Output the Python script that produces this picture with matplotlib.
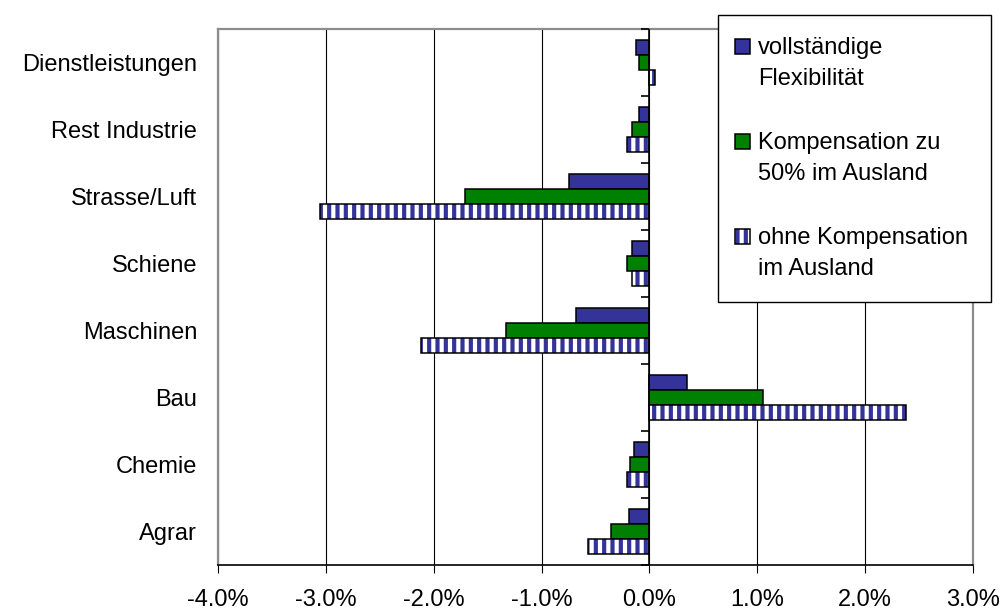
import numpy as np
import matplotlib
matplotlib.use("Agg")
import matplotlib.pyplot as plt
from matplotlib.patches import Patch, Rectangle
from matplotlib.legend_handler import HandlerBase
from matplotlib.ticker import PercentFormatter

plt.rcParams['font.family'] = ['Liberation Sans', 'DejaVu Sans']
plt.rcParams['axes.unicode_minus'] = False
plt.rcParams['hatch.linewidth'] = 3.0

# data (percent change), top to bottom
categories = ['Dienstleistungen', 'Rest Industrie', 'Strasse/Luft', 'Schiene',
              'Maschinen', 'Bau', 'Chemie', 'Agrar']
voll_flex = [-0.12, -0.10, -0.75, -0.16, -0.68, 0.35, -0.14, -0.19]
komp_50 = [-0.10, -0.16, -1.71, -0.21, -1.33, 1.05, -0.18, -0.36]
ohne_komp = [0.05, -0.21, -3.05, -0.16, -2.12, 2.38, -0.21, -0.57]
labels = ['vollständige\nFlexibilität', 'Kompensation zu\n50% im Ausland',
          'ohne Kompensation\nim Ausland']

blue = '#333399'
green = '#008000'
FS = 17
LSP = 1.5


class TopSquare(HandlerBase):
    # square key aligned with the first line of a two-line label
    def create_artists(self, legend, orig_handle, xdescent, ydescent,
                       width, height, fontsize, trans):
        s = 0.62 * fontsize
        x0 = (width - s) / 2 - xdescent - 0.3 * fontsize
        y0 = (LSP - 0.72) * fontsize
        out = []
        if orig_handle.get_hatch():
            out.append(Rectangle((x0, y0), s, s, facecolor='white', edgecolor=blue,
                                 hatch=orig_handle.get_hatch(), linewidth=0, transform=trans))
            out.append(Rectangle((x0, y0), s, s, fill=False, edgecolor='black',
                                 linewidth=1.1, transform=trans))
        else:
            out.append(Rectangle((x0, y0), s, s, facecolor=orig_handle.get_facecolor(),
                                 edgecolor='black', linewidth=1.1, transform=trans))
        return out


fig = plt.figure(figsize=(10.01, 6.10), dpi=100)
ax = fig.add_axes([0.2178, 0.0738, 0.7542, 0.8787])

n = len(categories)
y = np.arange(n)[::-1]
h = 0.22

ax.barh(y + h, voll_flex, height=h, color=blue, edgecolor='black', linewidth=1.1, zorder=3)
ax.barh(y, komp_50, height=h, color=green, edgecolor='black', linewidth=1.1, zorder=3)
# striped series: white face, blue vertical hatch, black outline on top
ax.barh(y - h, ohne_komp, height=h, color='white', edgecolor=blue, hatch='||', linewidth=0, zorder=3)
ax.barh(y - h, ohne_komp, height=h, fill=False, edgecolor='black', linewidth=1.1, zorder=4)

ax.set_xlim(-4, 3)
ax.set_ylim(-0.5, n - 0.5)
ax.xaxis.set_major_locator(plt.MultipleLocator(1))
ax.xaxis.set_major_formatter(PercentFormatter(xmax=100, decimals=1))
ax.grid(axis='x', color='black', linewidth=0.8, zorder=0)
ax.set_axisbelow(True)

ax.set_yticks(y)
ax.set_yticklabels(categories)
ax.tick_params(axis='y', length=0, pad=15, labelsize=FS)
ax.tick_params(axis='x', length=6, width=0.8, direction='out', pad=11, labelsize=FS)

for s in ['left', 'top', 'right']:
    ax.spines[s].set_color('#8c8c8c')
    ax.spines[s].set_linewidth(1.6)
ax.spines['bottom'].set_color('black')
ax.spines['bottom'].set_linewidth(1.2)

# value axis at zero with small ticks at category boundaries
ax.axvline(0, color='black', linewidth=1.2, zorder=5)
bounds = np.arange(n + 1) - 0.5
ax.plot(np.zeros(n + 1), bounds, ls='none', marker=0, markersize=6,
        mec='black', mew=1.2, zorder=5, clip_on=False)

h1 = Patch(facecolor=blue)
h2 = Patch(facecolor=green)
h3 = Patch(facecolor='white', hatch='||')
leg = fig.legend([h1, h2, h3], labels, loc='upper left',
                 bbox_to_anchor=(718 / 1001, 1 - 15 / 610),
                 handler_map={Patch: TopSquare()},
                 fontsize=FS, frameon=True, fancybox=False, framealpha=1,
                 edgecolor='black', handlelength=0.75, handleheight=0.7,
                 handletextpad=0.0, labelspacing=1.8, borderpad=0.95,
                 borderaxespad=0)
for t in leg.get_texts():
    t.set_linespacing(LSP)
leg.get_frame().set_linewidth(1.0)
leg.set_zorder(10)

fig.savefig('out.png', dpi=100)
